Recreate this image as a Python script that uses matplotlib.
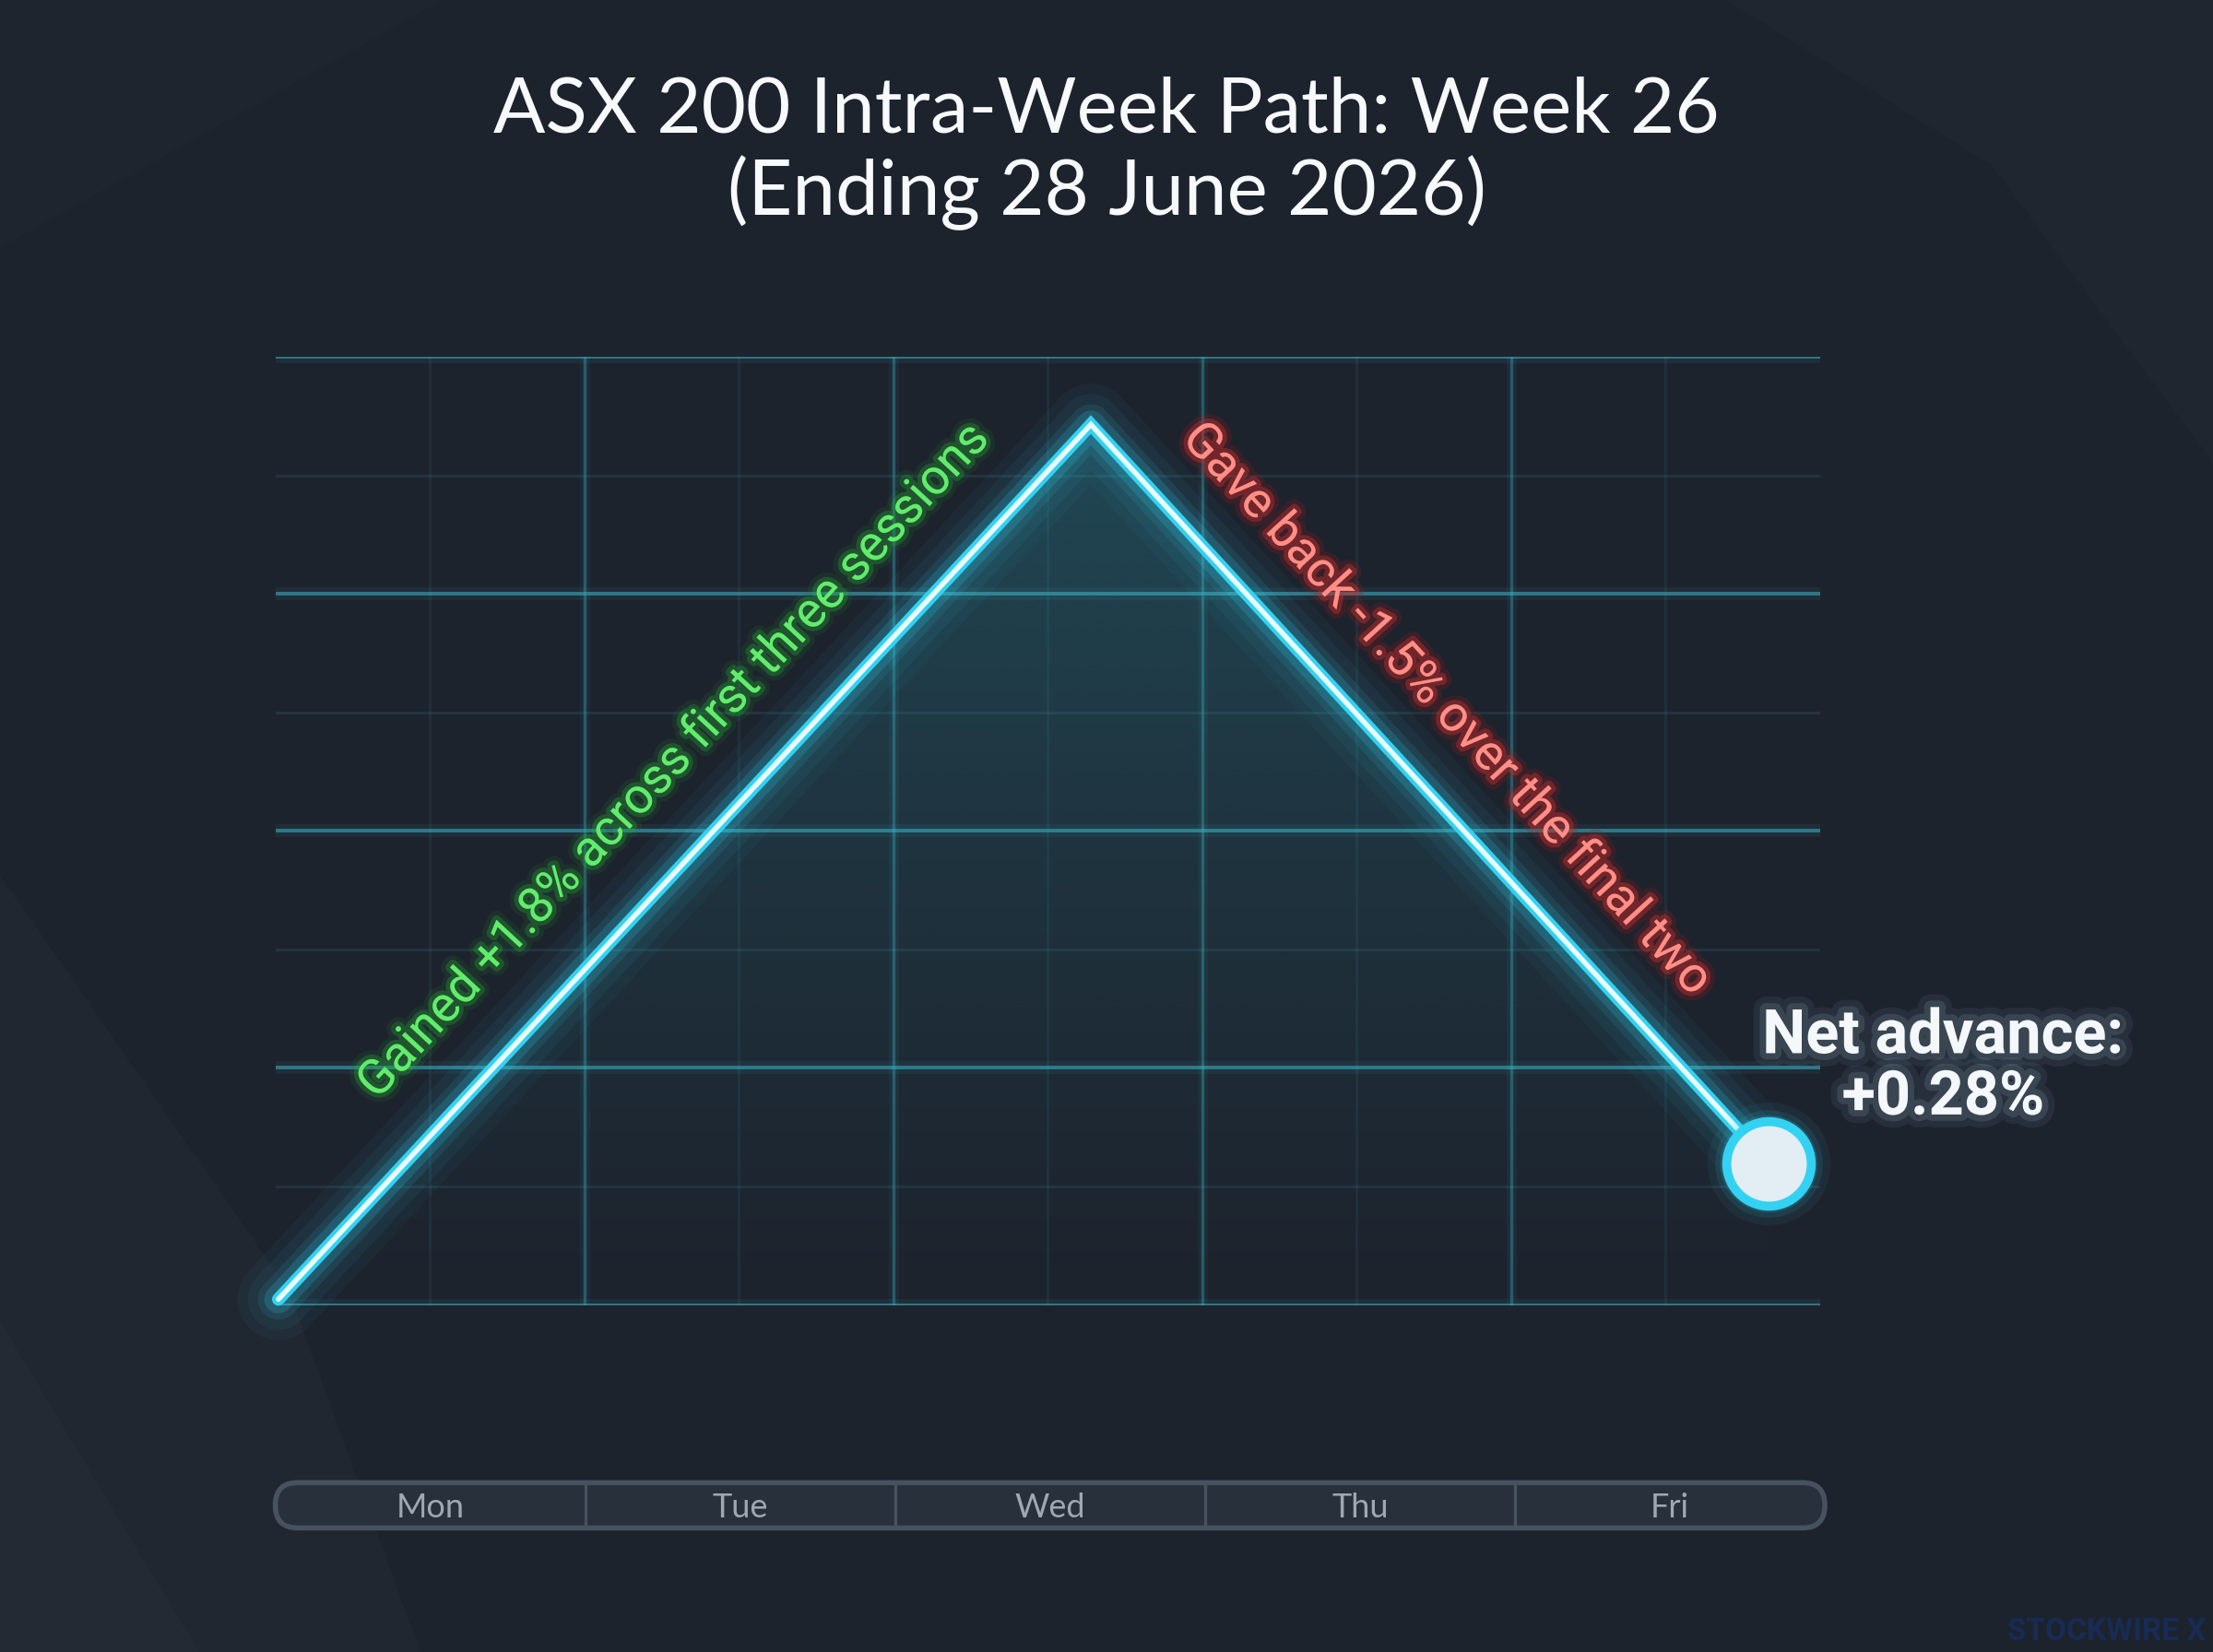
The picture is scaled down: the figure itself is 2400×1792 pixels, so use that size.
import numpy as np
import matplotlib
matplotlib.use("Agg")
import matplotlib.pyplot as plt
from matplotlib import patheffects as pe
from matplotlib.patches import Polygon, FancyBboxPatch

# ---------------- data ----------------
days = ["Mon", "Tue", "Wed", "Thu", "Fri"]
path_x = [0.01, 2.64, 4.835]          # position along the trading week (day units)
path_y = [0.0, 1.8, 0.28]             # cumulative change, %
gain_label = "Gained +1.8% across first three sessions"
loss_label = "Gave back -1.5% over the final two"
net_label = "Net advance:\n+0.28%"
title = "ASX 200 Intra-Week Path: Week 26\n(Ending 28 June 2026)"

BG = "#1d232d"
CYAN = "#33d2f2"

fig = plt.figure(figsize=(12, 8.96), dpi=200)
fig.patch.set_facecolor(BG)

# subtle background facets
for pts, a in [
    ([(0, 0.47), (0.13, 0.22), (0.19, 0.0), (0, 0)], 0.018),
    ([(0, 0.2), (0.09, 0.0), (0, 0)], 0.015),
    ([(0.78, 1), (1, 1), (1, 0.72), (0.9, 0.9)], 0.015),
    ([(0.0, 1.0), (0.2, 1.0), (0.0, 0.85)], 0.010),
]:
    fig.add_artist(Polygon(pts, closed=True, transform=fig.transFigure,
                           facecolor="white", edgecolor="none", alpha=a, zorder=0))

# ---------------- main axes ----------------
ax = fig.add_axes([0.1244, 0.2101, 0.698, 0.5738])
ax.set_facecolor("none")
ax.set_xlim(0, 5)
ymin, ymax = -0.0116, 1.939
ax.set_ylim(ymin, ymax)
ax.axis("off")

GRID = "#3cb6c8"
# minor grid
for yv in np.linspace(ymin, ymax, 9)[1::2]:
    ax.axhline(yv, color=GRID, lw=1.0, alpha=0.13, zorder=1)
for xv in [0.5, 1.5, 2.5, 3.5, 4.5]:
    ax.axvline(xv, color=GRID, lw=1.0, alpha=0.09, zorder=1)
# major grid with glow
for yv in np.linspace(ymin, ymax, 5):
    ax.axhline(yv, color=GRID, lw=5, alpha=0.08, zorder=1)
    ax.axhline(yv, color=GRID, lw=1.4, alpha=0.55, zorder=1)
for xv in [1, 2, 3, 4]:
    ax.axvline(xv, color=GRID, lw=4, alpha=0.06, zorder=1)
    ax.axvline(xv, color=GRID, lw=1.2, alpha=0.35, zorder=1)

# gradient fill under path (fades out towards the bottom)
n = 256
rgba = np.zeros((n, 1, 4))
rgba[:, 0, 0] = 38 / 255
rgba[:, 0, 1] = 118 / 255
rgba[:, 0, 2] = 135 / 255
rgba[:, 0, 3] = np.linspace(0.55, 0.0, n) ** 1.2
im = ax.imshow(rgba, extent=[0, 5, ymin, ymax], aspect="auto",
               zorder=0.5, origin="upper", interpolation="bilinear")
fill_poly = Polygon(list(zip(path_x, path_y)) + [(path_x[-1], ymin), (path_x[0], ymin)],
                    closed=True, transform=ax.transData, facecolor="none", edgecolor="none")
ax.add_patch(fill_poly)
im.set_clip_path(fill_poly)

# glowing path
for lw, a in [(32, 0.04), (24, 0.06), (16, 0.10), (11, 0.18)]:
    ax.plot(path_x, path_y, color=CYAN, lw=lw, alpha=a, solid_capstyle="round",
            solid_joinstyle="round", zorder=3, clip_on=False)
ax.plot(path_x, path_y, color=CYAN, lw=5.0, solid_capstyle="round",
        solid_joinstyle="miter", zorder=4, clip_on=False)
ax.plot(path_x, path_y, color="#e8fbff", lw=2.0, solid_capstyle="round",
        solid_joinstyle="miter", zorder=5, clip_on=False)

# end marker
for ms, a in [(48, 0.06), (42, 0.10), (38, 0.16)]:
    ax.plot(path_x[-1], path_y[-1], "o", ms=ms, color=CYAN, alpha=a, mew=0,
            zorder=5, clip_on=False)
ax.plot(path_x[-1], path_y[-1], "o", ms=33, mfc="#e3edf4", mec=CYAN, mew=3.5,
        zorder=6, clip_on=False)

# angles of the segments in screen space
fig.canvas.draw()
def seg_angle(i):
    p0 = ax.transData.transform((path_x[i], path_y[i]))
    p1 = ax.transData.transform((path_x[i + 1], path_y[i + 1]))
    return np.degrees(np.arctan2(p1[1] - p0[1], p1[0] - p0[0]))

glow_g = [pe.Stroke(linewidth=7, foreground="#1f8a2a", alpha=0.14),
          pe.Stroke(linewidth=3.5, foreground="#2bb53a", alpha=0.28),
          pe.Normal()]
ax.text(1.29, 1.106, gain_label, rotation=seg_angle(0), rotation_mode="anchor",
        ha="center", va="center", color="#62ec6c", fontsize=19.5,
        family="Roboto", zorder=7, path_effects=glow_g)

glow_r = [pe.Stroke(linewidth=7, foreground="#a01818", alpha=0.22),
          pe.Stroke(linewidth=3.5, foreground="#d03030", alpha=0.38),
          pe.Normal()]
ax.text(3.79, 1.214, loss_label, rotation=seg_angle(1), rotation_mode="anchor",
        ha="center", va="center", color="#ff8f86", fontsize=19.5,
        family="Roboto", zorder=7, path_effects=glow_r)

# net advance label
glow_w = [pe.Stroke(linewidth=10, foreground="#9fd8ff", alpha=0.07),
          pe.Stroke(linewidth=5, foreground="#cfeaff", alpha=0.12),
          pe.Normal()]
fig.text(0.878, 0.354, net_label, ha="center", va="center", color="#f4f8fb",
         fontsize=24, fontweight="bold", family="Roboto", linespacing=1.05,
         path_effects=glow_w)

# title
fig.text(0.5, 0.907, title, ha="center", va="center", color="#f7f9fb",
         fontsize=30, family="Lato", fontweight="normal", linespacing=1.15)

# ---------------- day bar ----------------
bax = fig.add_axes([0.1244, 0.0751, 0.7002, 0.0274])
bax.set_xlim(0, 5)
bax.set_ylim(0, 1)
bax.axis("off")
bar = FancyBboxPatch((0, 0), 5, 1, boxstyle="round,pad=0,rounding_size=0.0714",
                     mutation_aspect=7.0, facecolor="#27303b", edgecolor="#46525f",
                     lw=2.0, clip_on=False)
bax.add_patch(bar)
for xv in [1, 2, 3, 4]:
    bax.plot([xv, xv], [0.06, 0.94], color="#46525f", lw=1.2)
for i, d in enumerate(days):
    bax.text(i + 0.5, 0.45, d, ha="center", va="center", color="#9ea8b2",
             fontsize=13, family="Lato", fontweight="normal")

# watermark
fig.text(0.997, 0.012, "STOCKWIRE X", ha="right", va="center", color="#172b55",
         fontsize=12, fontweight="bold", family="Roboto")

fig.savefig("out.png", dpi=200, facecolor=BG)
